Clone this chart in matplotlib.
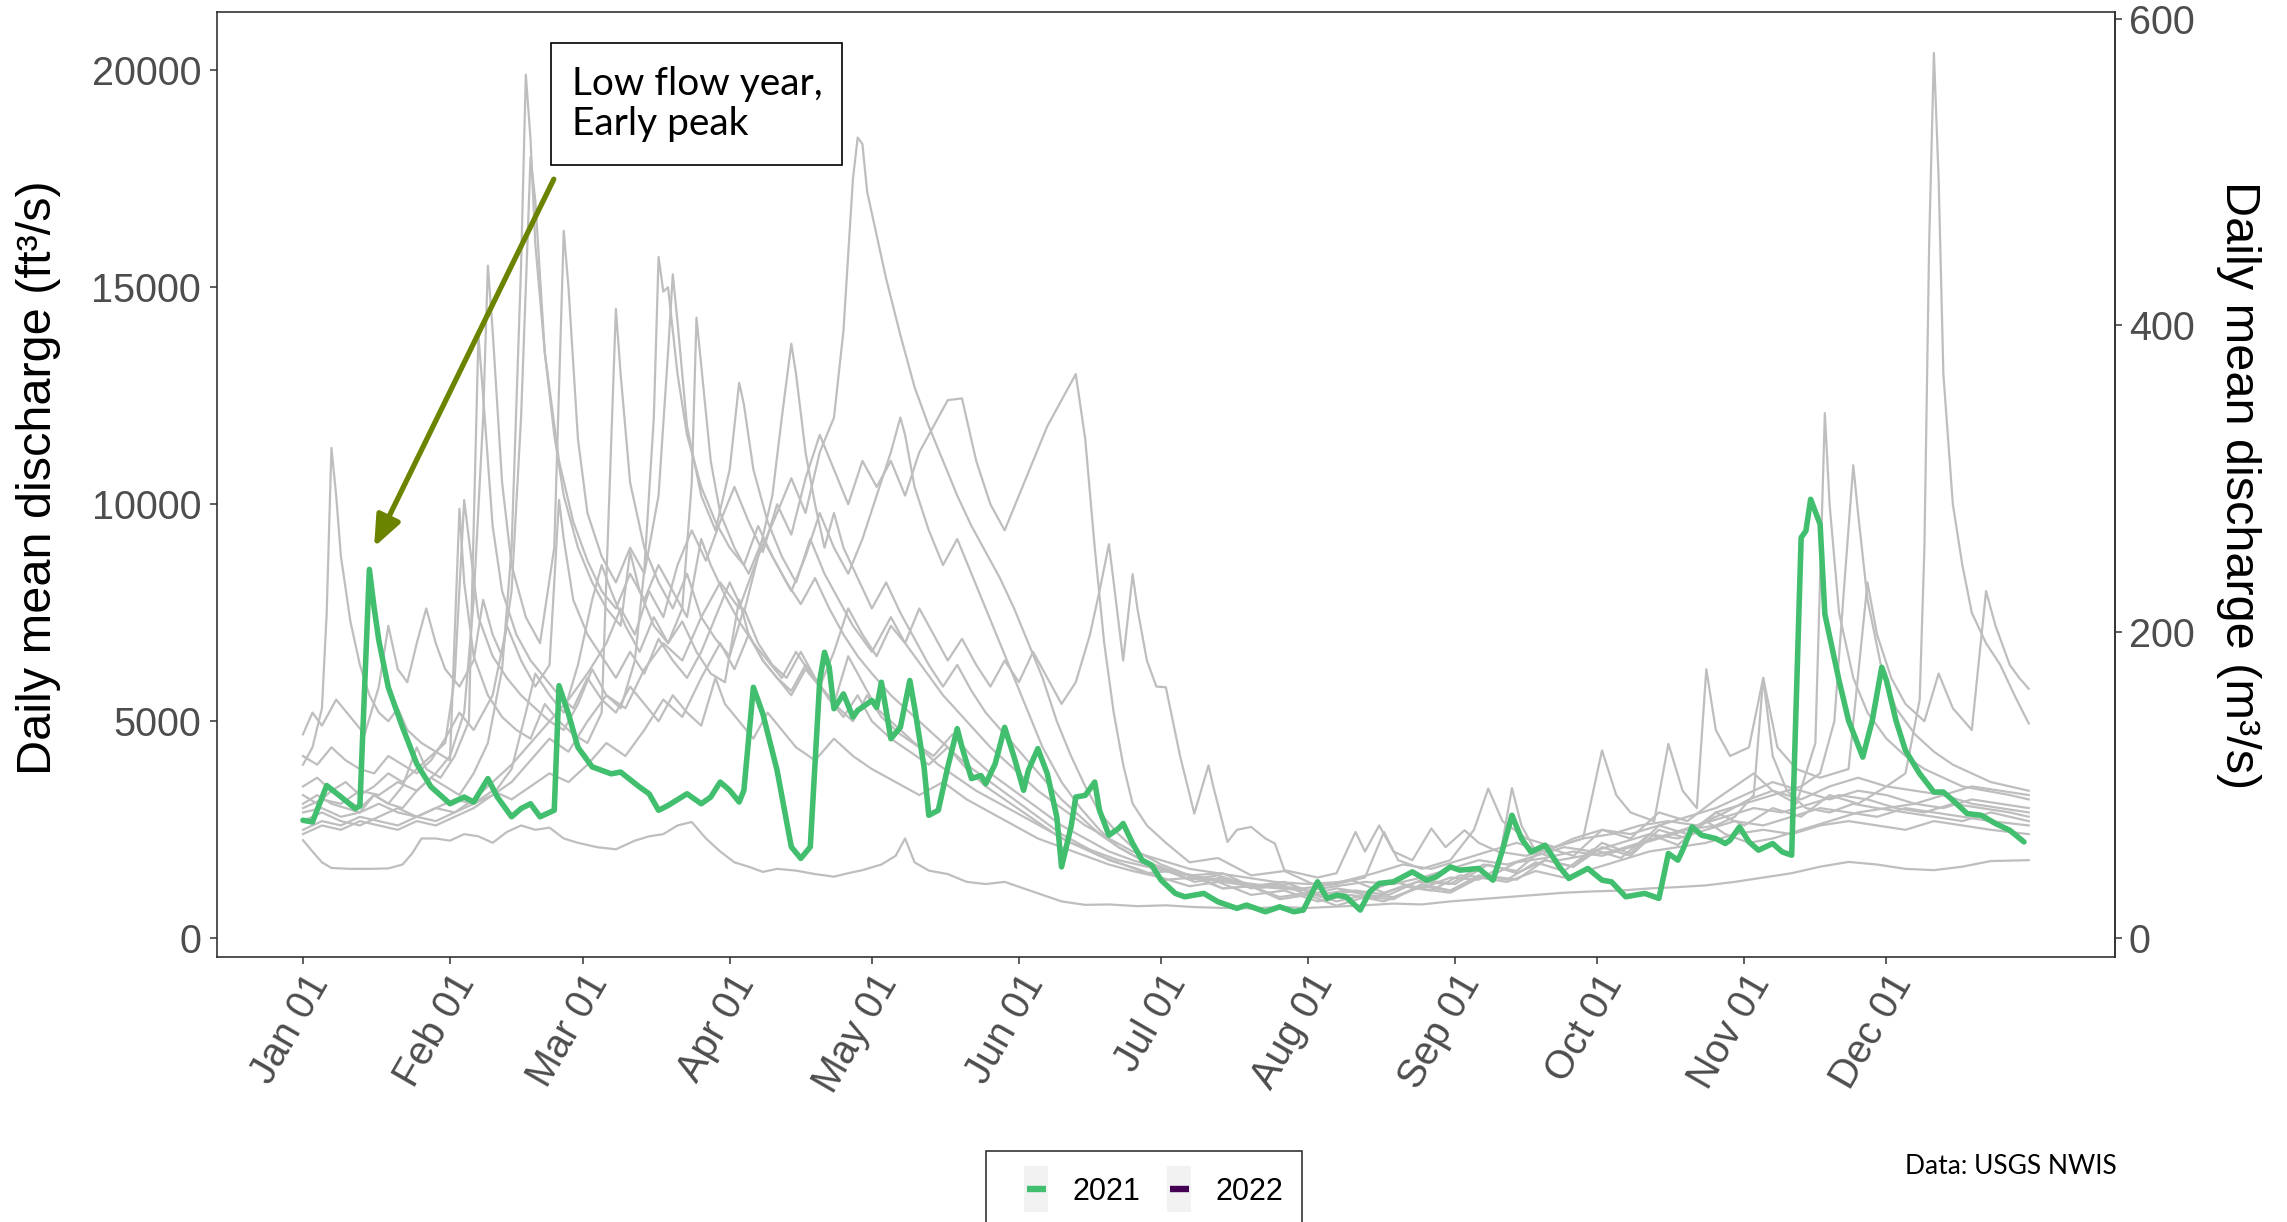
import matplotlib
matplotlib.use("Agg")
import matplotlib.pyplot as plt
from matplotlib.patches import Rectangle
from matplotlib.lines import Line2D

# ---------------------------------------------------------------------------
# Daily mean discharge (ft3/s) by day of year (0 = Jan 01)
# ---------------------------------------------------------------------------
month_ticks = [0, 31, 59, 90, 120, 151, 181, 212, 243, 273, 304, 334]
month_labels = ["Jan 01", "Feb 01", "Mar 01", "Apr 01", "May 01", "Jun 01",
                "Jul 01", "Aug 01", "Sep 01", "Oct 01", "Nov 01", "Dec 01"]

days_2009 = [0, 4, 8, 12, 16, 20, 24, 28, 32, 36, 40, 44, 47, 49, 52, 55, 58, 61, 63, 65,
             68, 71, 74, 77, 80, 82, 83, 84, 86, 88, 91, 94, 97, 100, 103, 106, 109, 112,
             115, 118, 121, 124, 126, 127, 129, 132, 135, 138, 141, 144, 147, 150, 153, 156,
             160, 164, 168, 172, 177, 182, 188, 194, 200, 206, 212, 218, 224, 230, 236, 242,
             248, 254, 260, 266, 272, 278, 284, 290, 296, 302, 308, 314, 320, 326, 332, 338,
             344, 350, 356, 364]
cfs_2009 = [2400, 2600, 2500, 2700, 2600, 2500, 2700, 2600, 2800, 3000, 3300, 3900, 5200,
            6100, 5600, 5200, 6300, 7800, 8600, 8000, 7200, 6600, 7400, 6800, 7600, 10500,
            14300, 13200, 11000, 9800, 9000, 8400, 9200, 8600, 8000, 8800, 9800, 9000, 8400,
            9200, 10200, 11200, 12000, 11600, 10400, 9400, 8600, 9200, 8400, 7600, 6800,
            6000, 5200, 4400, 3600, 3000, 2500, 2100, 1800, 1600, 1400, 1300, 1200, 1150,
            1100, 1200, 1300, 1250, 1400, 1600, 1800, 1700, 1900, 2100, 2000, 2200, 2400,
            2300, 2500, 2700, 2600, 2800, 3000, 2900, 2800, 3000, 2900, 2800, 2700, 2600]

days_2010 = [0, 2, 4, 6, 10, 14, 18, 21, 23, 25, 28, 31, 34, 37, 40, 43, 46, 49, 52, 55,
             58, 62, 66, 70, 73, 76, 79, 82, 85, 88, 91, 94, 97, 100, 104, 108, 112, 115,
             118, 122, 125, 127, 129, 132, 136, 140, 144, 148, 152, 156, 160, 165, 170, 176,
             182, 188, 194, 200, 206, 212, 218, 224, 230, 236, 242, 248, 254, 260, 266, 272,
             278, 284, 290, 296, 302, 308, 314, 320, 326, 332, 338, 344, 350, 356, 364]
cfs_2010 = [2260, 2000, 1750, 1620, 1600, 1600, 1610, 1700, 1950, 2300, 2300, 2250, 2400,
            2350, 2200, 2450, 2600, 2500, 2550, 2300, 2200, 2100, 2050, 2250, 2350, 2400,
            2600, 2680, 2300, 2000, 1750, 1650, 1530, 1600, 1560, 1480, 1420, 1500, 1570,
            1700, 1900, 2300, 1750, 1560, 1480, 1300, 1250, 1300, 1150, 1000, 850, 770, 780,
            740, 760, 720, 700, 690, 720, 700, 730, 760, 800, 780, 850, 900, 950, 1000,
            1050, 1080, 1100, 1150, 1180, 1220, 1300, 1400, 1500, 1650, 1760, 1700, 1600,
            1570, 1650, 1780, 1800]

days_2011 = [0, 2, 4, 5, 6, 7, 8, 10, 12, 14, 16, 18, 20, 22, 25, 28, 31, 33, 34, 36, 39,
             42, 45, 48, 51, 54, 57, 60, 63, 66, 67, 69, 72, 75, 78, 81, 84, 87, 90, 93, 96,
             99, 102, 105, 108, 111, 114, 117, 120, 124, 128, 132, 136, 140, 144, 148, 152,
             156, 160, 164, 168, 173, 178, 183, 188, 194, 200, 206, 212, 218, 224, 230, 236,
             242, 248, 252, 255, 257, 260, 265, 270, 276, 282, 288, 294, 300, 305, 310, 315,
             319, 321, 322, 324, 327, 330, 334, 338, 342, 346, 350, 355, 360, 364]
cfs_2011 = [4000, 4400, 5300, 7500, 11300, 10200, 8800, 7300, 6300, 5600, 5200, 5000, 5300,
            4800, 4500, 4300, 4100, 9900, 8200, 6500, 5600, 5100, 4800, 4600, 5400, 5000,
            4700, 4500, 5200, 14500, 13000, 10500, 9000, 8200, 7600, 8400, 7400, 6900,
            6500, 7600, 6800, 6300, 6000, 6600, 6000, 5500, 5100, 5600, 5000, 4600, 4300,
            4000, 4400, 3900, 3500, 3200, 2900, 2600, 2300, 2100, 1900, 1700, 1500, 1550,
            1300, 1400, 1150, 1250, 1000, 1150, 1050, 1300, 1150, 1400, 1350, 1600, 3460,
            2600, 2000, 1800, 1900, 2000, 2200, 2400, 2600, 2900, 3200, 3400, 3100, 4500,
            12100, 10000, 7500, 6000, 5200, 4600, 4200, 3900, 3700, 3500, 3400, 3300, 3200]

days_2012 = [0, 3, 6, 9, 12, 15, 18, 21, 24, 27, 30, 33, 36, 39, 42, 44, 46, 47, 48, 49,
             51, 53, 55, 58, 61, 64, 67, 69, 71, 74, 77, 80, 83, 86, 89, 92, 94, 97, 100,
             103, 106, 109, 112, 115, 118, 121, 125, 129, 133, 137, 141, 145, 150, 155, 160,
             165, 170, 175, 181, 187, 193, 200, 207, 214, 220, 226, 232, 238, 244, 250, 256,
             262, 268, 274, 280, 286, 292, 298, 302, 306, 308, 310, 313, 317, 322, 327, 332,
             338, 344, 350, 356, 360, 364]
cfs_2012 = [3100, 3300, 3100, 3000, 2900, 3300, 3100, 3000, 3400, 3700, 3500, 3300, 3800,
            4500, 6200, 9000, 15500, 19900, 18400, 16000, 13500, 11600, 10200, 9000, 8200,
            7600, 7200, 8900, 8000, 7200, 6800, 7300, 6600, 6100, 5900, 7800, 7000, 6400,
            6000, 5700, 6300, 5800, 5400, 6500, 5900, 5300, 4900, 4500, 4200, 4700, 4200,
            3800, 3400, 3000, 2600, 2300, 2000, 1800, 1600, 1350, 1450, 1200, 1300, 1000,
            1100, 950, 1200, 1100, 1450, 1400, 1750, 1850, 2000, 1900, 2100, 2300, 2500,
            2600, 2800, 3300, 6000, 4200, 3400, 3000, 2900, 3100, 3000, 2900, 2800, 2700,
            2900, 2800, 2700]

days_2013 = [0, 3, 6, 9, 12, 15, 18, 21, 24, 27, 30, 32, 34, 35, 37, 40, 43, 46, 49, 52,
             55, 58, 61, 64, 67, 70, 72, 74, 75, 76, 77, 79, 81, 84, 87, 90, 93, 96, 99,
             102, 105, 108, 111, 114, 117, 120, 124, 128, 132, 136, 140, 145, 150, 155, 160,
             165, 170, 176, 182, 188, 194, 200, 206, 212, 218, 224, 230, 236, 242, 248, 254,
             260, 266, 272, 278, 284, 290, 296, 302, 308, 314, 320, 326, 332, 338, 344, 350,
             356, 364]
cfs_2013 = [3500, 3700, 3400, 3600, 3300, 3500, 3800, 3600, 3900, 4200, 4500, 6000, 10100,
            9200, 7400, 6500, 6000, 5600, 5300, 5000, 4800, 5400, 6200, 5600, 5300, 6400,
            8500, 12000, 15700, 14900, 15000, 13000, 11600, 10400, 9600, 9000, 8600, 9500,
            8800, 8200, 7700, 8300, 7600, 7000, 6500, 6100, 5600, 5200, 4800, 4400, 4000,
            3600, 3200, 2800, 2400, 2100, 1800, 1600, 1350, 1400, 1150, 1200, 950, 1050,
            850, 1000, 950, 1200, 1100, 1400, 1300, 1550, 1400, 1600, 1800, 2000, 2100,
            2200, 2400, 2500, 2400, 2600, 2700, 2600, 2500, 2700, 2600, 2500, 2400]

days_2014 = [0, 4, 8, 12, 16, 20, 24, 28, 32, 36, 40, 44, 48, 52, 56, 60, 64, 68, 72, 76,
             80, 84, 88, 92, 96, 100, 103, 106, 109, 112, 114, 116, 117, 118, 119, 121, 123,
             126, 129, 132, 135, 138, 141, 144, 147, 150, 153, 156, 159, 162, 165, 168, 172,
             176, 181, 187, 194, 201, 208, 215, 222, 229, 236, 243, 250, 256, 262, 268, 274,
             280, 286, 292, 298, 304, 310, 316, 322, 328, 334, 338, 341, 342, 343, 344, 345,
             346, 348, 350, 352, 355, 358, 361, 364]
cfs_2014 = [2900, 3000, 2800, 2900, 3100, 2900, 2800, 3000, 3200, 3100, 3300, 3600, 4100,
            4600, 4300, 5000, 5600, 5300, 6200, 6800, 6400, 7400, 8200, 7600, 8800, 9800,
            10600, 9800, 11200, 12000, 14000, 17500, 18450, 18300, 17200, 16200, 15200,
            13900, 12700, 11800, 11000, 10200, 9500, 8900, 8300, 7600, 6800, 6000, 5000,
            4200, 3500, 2900, 2400, 2000, 1700, 1450, 1500, 1150, 1250, 950, 1100, 1000,
            1350, 1250, 1700, 1500, 1800, 1650, 2100, 1900, 2500, 2300, 2900, 2600, 3000,
            2800, 3300, 3100, 3500, 3800, 5500, 9000, 16000, 20400, 17500, 13000, 10000,
            8600, 7500, 6800, 6300, 5600, 4950]

days_2015 = [0, 4, 8, 12, 16, 20, 24, 28, 32, 36, 40, 44, 48, 52, 56, 60, 64, 67, 70, 73,
             76, 79, 82, 85, 88, 91, 94, 97, 100, 103, 106, 109, 112, 115, 118, 121, 124,
             127, 130, 133, 136, 139, 142, 145, 148, 151, 154, 157, 160, 162, 163, 165, 167,
             169, 171, 173, 175, 178, 182, 187, 193, 200, 207, 214, 221, 228, 235, 242, 249,
             256, 262, 268, 274, 280, 286, 292, 298, 302, 306, 310, 316, 322, 328, 334, 340,
             346, 352, 358, 364]
cfs_2015 = [2500, 2700, 2600, 2800, 2700, 2600, 2800, 3000, 2900, 3200, 3600, 4000, 4500,
            5000, 5500, 6100, 6800, 7600, 7000, 8000, 7400, 8600, 9400, 8700, 9600, 10400,
            9600, 8900, 10000, 9300, 10600, 11600, 10800, 10000, 11000, 10400, 11000, 10200,
            11200, 11800, 12400, 12440, 11000, 10000, 9400, 10200, 11000, 11800, 12400,
            12800, 13000, 11500, 9000, 6800, 5200, 4000, 3100, 2600, 2200, 1750, 1850, 1450,
            1550, 1200, 1350, 1050, 1300, 1250, 1700, 1550, 2100, 1900, 2500, 2300, 2900,
            2700, 3200, 3500, 3800, 3400, 3200, 3500, 3700, 3500, 3400, 3300, 3500, 3400,
            3300]

days_2016 = [0, 2, 4, 7, 10, 13, 16, 18, 20, 22, 24, 26, 28, 30, 33, 36, 38, 40, 42, 44,
             46, 48, 49, 51, 54, 57, 60, 63, 66, 69, 72, 75, 78, 81, 84, 86, 89, 92, 95, 98,
             101, 104, 107, 110, 113, 116, 119, 122, 126, 130, 134, 138, 142, 147, 152, 157,
             162, 167, 172, 178, 184, 190, 197, 204, 211, 218, 224, 228, 231, 236, 242, 247,
             250, 253, 258, 264, 270, 274, 277, 280, 285, 288, 291, 294, 296, 298, 301, 305,
             308, 311, 315, 320, 326, 330, 332, 335, 338, 342, 345, 348, 352, 355, 357, 360,
             362, 364]
cfs_2016 = [4700, 5200, 4900, 5500, 5100, 4700, 5800, 7200, 6200, 5900, 6800, 7600, 6800,
            6200, 5800, 6400, 7800, 7000, 6500, 8000, 12000, 18000, 17000, 13500, 11000,
            9600, 8700, 8000, 7600, 8400, 7800, 8600, 8000, 7400, 9200, 8600, 7900, 7300,
            6800, 6400, 6000, 6600, 6100, 5700, 5300, 5000, 5600, 5100, 4700, 4400, 4000,
            3700, 3400, 3100, 2800, 2500, 2200, 2000, 1800, 1650, 1500, 1400, 1300, 1200,
            1150, 1250, 1400, 2450, 1800, 1600, 1800, 2500, 3450, 2700, 2300, 2100, 2300,
            4330, 3300, 2900, 2700, 4480, 3400, 3000, 6200, 4800, 4200, 4400, 6000, 4400,
            3900, 3700, 3900, 8200, 7000, 6000, 5400, 5000, 6100, 5300, 4800, 8000, 7200,
            6300, 6000, 5750]

days_2017 = [0, 3, 6, 9, 12, 15, 18, 21, 24, 26, 29, 32, 35, 37, 38, 40, 42, 45, 48, 51,
             54, 57, 60, 63, 66, 69, 72, 75, 78, 81, 84, 87, 89, 92, 95, 98, 101, 104, 108,
             112, 116, 120, 125, 130, 135, 140, 145, 150, 155, 160, 165, 170, 175, 181, 187,
             193, 200, 207, 214, 221, 228, 235, 242, 249, 256, 262, 268, 274, 280, 286, 292,
             298, 304, 310, 316, 320, 323, 325, 327, 328, 330, 333, 336, 340, 344, 348, 352,
             356, 360, 364]
cfs_2017 = [3300, 3100, 3400, 3200, 3000, 3300, 3100, 3500, 4400, 3900, 3700, 4200, 5000,
            13900, 12500, 9500, 8000, 7000, 6400, 6000, 5600, 5300, 6000, 5500, 5200, 5800,
            5400, 5000, 5600, 5200, 4900, 6000, 5400, 5000, 4600, 5200, 4800, 4400, 4100,
            4600, 4200, 3900, 3600, 3300, 3600, 3200, 2900, 2600, 2300, 2100, 1900, 1700,
            1550, 1400, 1200, 1300, 1000, 1100, 850, 1000, 850, 1150, 1050, 1450, 1350, 1800,
            1650, 2200, 1950, 2600, 2400, 2900, 3100, 3300, 3500, 3800, 5000, 8000, 10900,
            9800, 7800, 6200, 5300, 4700, 4300, 4000, 3800, 3600, 3500, 3400]

days_2018 = [0, 4, 8, 12, 16, 20, 24, 28, 32, 36, 40, 44, 48, 52, 56, 60, 64, 68, 72, 76,
             80, 84, 88, 91, 94, 97, 100, 103, 106, 109, 112, 115, 118, 121, 124, 127, 130,
             133, 136, 139, 142, 145, 148, 151, 154, 157, 160, 163, 166, 168, 170, 171, 173,
             175, 176, 178, 180, 182, 185, 188, 191, 192, 195, 197, 200, 203, 205, 207, 210,
             214, 218, 222, 224, 227, 230, 234, 238, 241, 245, 248, 252, 258, 264, 270, 276,
             282, 288, 294, 300, 306, 312, 318, 324, 330, 336, 342, 348, 354, 360, 364]
cfs_2018 = [2700, 2900, 2700, 2600, 2800, 3000, 2800, 2700, 2900, 3100, 3400, 3200, 3500,
            3800, 3600, 4000, 4500, 4200, 4800, 5500, 5100, 6000, 6800, 6200, 7000, 6400,
            6000, 5600, 6200, 5800, 6600, 7600, 7000, 6500, 7200, 6800, 7600, 7000, 6400,
            6900, 6300, 5800, 6400, 5900, 6600, 6000, 5400, 5900, 7000, 8000, 9080, 8200,
            6400, 8390, 7600, 6400, 5800, 5784, 4200, 2874, 3984, 3500, 2220, 2500, 2566,
            2300, 2184, 1570, 1500, 1400, 1500, 2450, 2000, 2600, 2000, 1800, 2530, 2100,
            2490, 2200, 2000, 1900, 2100, 2300, 2400, 2600, 2700, 2600, 2800, 3000, 2900,
            3100, 3300, 3200, 3000, 2900, 3100, 3000, 2900, 2800]

days_2019 = [0, 3, 6, 9, 12, 15, 18, 21, 24, 27, 30, 33, 36, 40, 43, 46, 49, 52, 54, 55,
             57, 60, 63, 66, 69, 72, 75, 78, 81, 84, 87, 90, 93, 96, 99, 101, 103, 104, 106,
             108, 110, 112, 114, 117, 120, 123, 126, 129, 132, 135, 138, 141, 144, 148, 152,
             156, 160, 164, 168, 172, 177, 182, 188, 194, 200, 206, 212, 218, 224, 230, 236,
             242, 248, 254, 260, 266, 272, 278, 284, 290, 296, 300, 305, 310, 316, 322, 328,
             334, 340, 346, 352, 358, 364]
cfs_2019 = [4200, 4000, 4400, 4100, 3900, 3800, 4200, 4000, 3800, 4100, 4600, 5200, 4800,
            5600, 7200, 6400, 5800, 6300, 10100, 9200, 7800, 7000, 6500, 6000, 6600, 6100,
            6900, 6400, 6000, 6600, 7400, 8200, 7500, 8800, 10200, 12000, 13700, 13000,
            11200, 10000, 9000, 9800, 9000, 8300, 7600, 8200, 7500, 6900, 6300, 5800, 6300,
            5700, 5200, 4700, 4200, 3700, 3200, 2800, 2400, 2100, 1800, 1550, 1450, 1150,
            1200, 900, 1000, 750, 950, 900, 1250, 1100, 1450, 1350, 1750, 1550, 2050, 1850,
            2400, 2150, 2700, 2400, 2200, 2300, 2500, 2700, 2900, 3000, 3100, 3300, 3100,
            3000, 2900]

days_2020 = [0, 4, 8, 12, 16, 20, 24, 28, 31, 34, 36, 38, 39, 40, 42, 44, 47, 50, 53, 55,
             56, 58, 60, 63, 66, 69, 72, 75, 77, 78, 79, 81, 84, 87, 90, 92, 93, 95, 98, 101,
             104, 107, 110, 113, 116, 120, 124, 127, 131, 135, 140, 145, 150, 155, 160, 165,
             170, 175, 181, 187, 193, 199, 205, 212, 219, 226, 232, 238, 244, 250, 256, 262,
             268, 274, 280, 286, 292, 298, 304, 310, 316, 322, 328, 334, 340, 346, 352, 358,
             364]
cfs_2020 = [3000, 3200, 3100, 3400, 3300, 3600, 3400, 3800, 4200, 5200, 7800, 12000, 15500,
            14000, 10500, 8600, 7400, 6800, 9000, 16300, 15000, 11500, 9800, 8800, 8200,
            9000, 8400, 10200, 13500, 15300, 14200, 11800, 10200, 9400, 10800, 12800, 12300,
            10800, 9600, 8800, 8200, 9200, 8400, 7800, 7200, 6600, 7400, 6800, 6200, 5600,
            5000, 4400, 3900, 3400, 3000, 2600, 2300, 2000, 1800, 1600, 1500, 1400, 1300,
            1250, 1300, 1500, 1700, 1600, 1800, 2000, 2200, 2000, 2300, 2500, 2400, 2600,
            2800, 3000, 3300, 3600, 3400, 3200, 3400, 3300, 3100, 3000, 3200, 3100, 3000]

days_2021 = [0, 2, 5, 8, 11, 12, 14, 15, 16, 18, 21, 24, 27, 31, 34, 36, 39, 41, 44, 46, 48,
             50, 53, 54, 56, 58, 61, 65, 67, 71, 73, 75, 77, 81, 84, 86, 88, 90, 92, 93, 95,
             97, 100, 103, 105, 107, 109, 110, 111, 112, 114, 116, 117, 120, 121, 122, 124,
             126, 128, 129, 131, 132, 134, 136, 138, 139, 141, 143, 144, 146, 148, 150, 152,
             153, 155, 157, 159, 160, 162, 163, 165, 167, 168, 170, 172, 173, 175, 177, 179,
             181, 184, 186, 190, 193, 197, 199, 203, 206, 209, 211, 214, 216, 218, 220, 223,
             225, 227, 230, 232, 234, 237, 239, 242, 244, 248, 251, 253, 255, 257, 259, 262,
             265, 267, 271, 274, 276, 279, 283, 286, 288, 290, 291, 293, 295, 298, 300, 301,
             303, 305, 307, 310, 312, 314, 316, 317, 318, 320, 321, 324, 326, 329, 331, 333,
             334, 336, 338, 341, 344, 346, 348, 351, 354, 357, 360, 363]
cfs_2021 = [2720, 2680, 3520, 3260, 2990, 3050, 8500, 7620, 6860, 5780, 4860, 4020, 3490,
            3100, 3255, 3140, 3680, 3255, 2800, 2990, 3100, 2800, 2950, 5820, 5170, 4400,
            3950, 3790, 3830, 3485, 3330, 2950, 3060, 3330, 3100, 3255, 3600, 3410, 3140,
            3410, 5784, 5170, 3870, 2106, 1840, 2106, 5940, 6590, 6240, 5290, 5630, 5100,
            5250, 5480, 5320, 5900, 4600, 4860, 5940, 5320, 3945, 2834, 2950, 3945, 4830,
            4405, 3680, 3750, 3560, 4020, 4860, 4175, 3410, 3870, 4370, 3790, 2795, 1646,
            2566, 3255, 3294, 3600, 2950, 2375, 2529, 2644, 2184, 1800, 1685, 1340, 1034,
            956, 1034, 841, 690, 766, 611, 726, 611, 651, 1301, 920, 995, 956, 651, 1071,
            1264, 1301, 1416, 1531, 1340, 1416, 1646, 1570, 1609, 1340, 2030, 2834, 2299,
            1991, 2145, 1646, 1379, 1609, 1340, 1301, 956, 1034, 920, 1954, 1800, 2030,
            2566, 2375, 2299, 2184, 2260, 2566, 2221, 2030, 2184, 1991, 1915, 9232, 9386,
            10115, 9540, 7471, 5938, 5018, 4175, 5018, 6244, 5938, 5018, 4329, 3793, 3370,
            3370, 3179, 2874, 2834, 2644, 2490, 2221]

days_2022 = []
cfs_2022 = []

history_years = [
    (days_2009, cfs_2009), (days_2010, cfs_2010), (days_2011, cfs_2011),
    (days_2012, cfs_2012), (days_2013, cfs_2013), (days_2014, cfs_2014),
    (days_2015, cfs_2015), (days_2016, cfs_2016), (days_2017, cfs_2017),
    (days_2018, cfs_2018), (days_2019, cfs_2019), (days_2020, cfs_2020),
]

CFS_PER_CMS = 35.3147

# ---------------------------------------------------------------------------
W, H = 2287, 1222
fig = plt.figure(figsize=(W / 100, H / 100), dpi=100)
fig.patch.set_facecolor("white")


def fx(px):
    return px / W


def fy(py):
    return 1 - py / H


ax_left, ax_right, ax_top, ax_bottom = 216.7, 2115.0, 11.7, 956.7
ax = fig.add_axes([fx(ax_left), fy(ax_bottom), fx(ax_right - ax_left),
                   (ax_bottom - ax_top) / H])

AXIS_FONT = "Liberation Sans"
NOTE_FONT = "Lato"
GREY_LINE = "#BEBEBE"
GREEN = "#41BE6E"
PURPLE = "#440154"
FRAME = "#333333"
TICK_TEXT = "#4D4D4D"
KEY_BG = "#F2F2F2"

for d, q in history_years:
    ax.plot(d, q, color=GREY_LINE, lw=1.6, solid_joinstyle="round", zorder=2)

line21, = ax.plot(days_2021, cfs_2021, color=GREEN, lw=4.0,
                  solid_joinstyle="round", solid_capstyle="round", zorder=4)
line22, = ax.plot(days_2022, cfs_2022, color=PURPLE, lw=4.0, zorder=4)

ax.set_xlim(-18.2, 382.2)
ax.set_ylim(-424, 21350)

for sp in ax.spines.values():
    sp.set_color(FRAME)
    sp.set_linewidth(1.2)

ax.set_yticks([0, 5000, 10000, 15000, 20000])
ax.set_xticks(month_ticks)
ax.set_xticklabels(month_labels, rotation=60, ha="right", va="top",
                   rotation_mode="anchor")
ax.tick_params(axis="both", colors=FRAME, length=5, width=1.1, labelcolor=TICK_TEXT,
               labelsize=28.5)
ax.tick_params(axis="y", pad=6.3)
ax.tick_params(axis="x", pad=3)
for lab in ax.get_xticklabels() + ax.get_yticklabels():
    lab.set_fontfamily(AXIS_FONT)

ax.set_ylabel("Daily mean discharge (ft³/s)", fontsize=35, family=AXIS_FONT,
              color="black")
ax.yaxis.set_label_coords(-0.082, 0.507)

sec = ax.secondary_yaxis("right", functions=(lambda v: v / CFS_PER_CMS,
                                              lambda v: v * CFS_PER_CMS))
sec.set_yticks([0, 200, 400, 600])
sec.tick_params(axis="y", colors=FRAME, length=5, width=1.1, labelcolor=TICK_TEXT,
                labelsize=28.5, pad=5)
for lab in sec.get_yticklabels():
    lab.set_fontfamily(AXIS_FONT)
sec.spines["right"].set_color(FRAME)
sec.spines["right"].set_linewidth(1.2)
fig.text(fx(2239), fy(485), "Daily mean discharge (m³/s)", fontsize=35,
         family=AXIS_FONT, color="black", rotation=270, ha="center", va="center")

# call-out for the early winter peak
box_l, box_t, box_r, box_b = 551, 42.7, 841.7, 165
fig.patches.append(Rectangle((fx(box_l), fy(box_b)), fx(box_r - box_l),
                             (box_b - box_t) / H, transform=fig.transFigure,
                             facecolor="white", edgecolor="black", lw=1.2, zorder=6))
fig.text(fx(571.7), fy(box_t + (box_b - box_t) / 2), "Low flow year,\nEarly peak",
         family=NOTE_FONT, fontsize=28, color="black", ha="left", va="center",
         linespacing=1.15, zorder=7)
ax.annotate("", xy=(15.0, 9016), xytext=(52.9, 17490),
            arrowprops=dict(arrowstyle="-|>,head_length=1.1,head_width=0.45",
                            color="#6B8400", lw=3.8, mutation_scale=17,
                            shrinkA=0, shrinkB=0),
            zorder=6)

# legend along the bottom edge
fig.patches.append(Rectangle((fx(986), fy(1228)), fx(1301.7 - 986), (1228 - 1151) / H,
                             transform=fig.transFigure, facecolor="white",
                             edgecolor=FRAME, lw=1.2, zorder=5))
for key_l, src, label in [(1024, line21, "2021"), (1167, line22, "2022")]:
    fig.patches.append(Rectangle((fx(key_l), fy(1211.7)), fx(23.7), 45.7 / H,
                                 transform=fig.transFigure, facecolor=KEY_BG,
                                 edgecolor="none", zorder=6))
    fig.lines.append(Line2D([fx(key_l + 2.7), fx(key_l + 22)], [fy(1189), fy(1189)],
                            transform=fig.transFigure, color=src.get_color(),
                            lw=4.6, solid_capstyle="butt", zorder=7))
    fig.text(fx(key_l + 48.7), fy(1189), label, family=AXIS_FONT, fontsize=22,
             color="black", ha="left", va="center_baseline", zorder=7)

fig.text(fx(2117), fy(1166.7), "Data: USGS NWIS", family=NOTE_FONT, fontsize=19,
         color="black", ha="right", va="center")

fig.savefig("out.png", dpi=100, facecolor="white")
